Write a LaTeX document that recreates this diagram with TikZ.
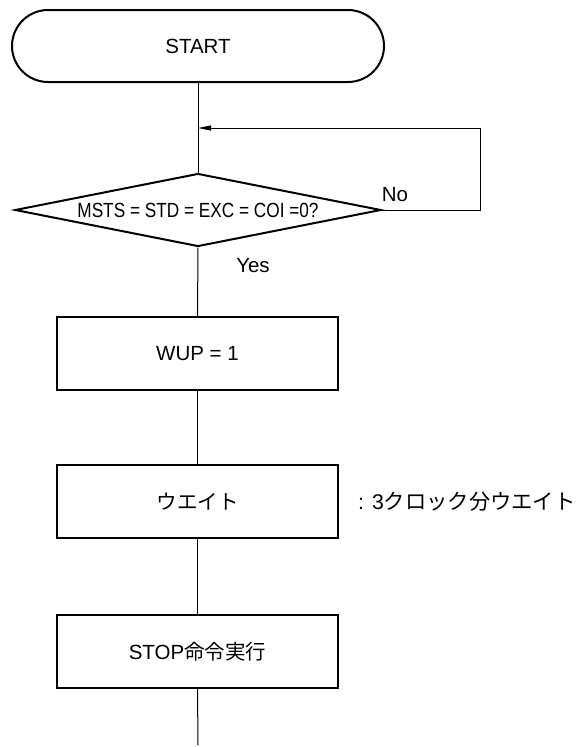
\documentclass[tikz,border=0pt]{standalone}
\usepackage{fontspec}
\setmainfont{Liberation Sans}
\newfontfamily\jp{Noto Sans CJK JP}
\usetikzlibrary{shapes.geometric,arrows.meta}
\begin{document}
\begin{tikzpicture}[x=1pt,y=-1pt,
  font=\fontsize{20.5}{24}\selectfont,
  box/.style={draw,line width=2pt,minimum width=281pt,minimum height=73pt,inner sep=0pt},
  term/.style={draw,line width=2pt,rounded corners=36pt,minimum width=372pt,minimum height=72pt,inner sep=0pt},
  dec/.style={draw,diamond,line width=2pt,minimum width=366pt,minimum height=73pt,inner sep=0pt},
  conn/.style={line width=1pt},
  lbl/.style={inner sep=0pt}]
\useasboundingbox (0,0) rectangle (579,747);
\node[term] (start) at (198,46) {START};
\node[dec] (dec) at (198,210) {};
\node[lbl] (dectext) at (198,210) {\scalebox{0.84}[1]{MSTS = STD = EXC = COI =0?}};
\node[lbl] (no) at (395,195) {No};
\node[lbl] (yes) at (253,266) {Yes};
\node[box] (wup) at (197.5,353.5) {WUP = 1};
\node[box] (wait) at (197.5,501.5) {\jp ウエイト};
\node[lbl,anchor=west,font=\fontsize{21.3}{24}\selectfont] (note) at (358,502) {: 3{\jp クロック分ウエイト}};
\node[box] (stop) at (197.5,651.5) {STOP{\jp 命令実行}};
\coordinate (join) at (198,128);
\coordinate (corner1) at (480,210);
\coordinate (corner2) at (480,128);
\coordinate (endpt) at (198,745);
\draw[conn] (start.south) -- (dec.north);
\draw[conn] (dec.south) -- (wup.north);
\draw[conn] (wup.south) -- (wait.north);
\draw[conn] (wait.south) -- (stop.north);
\draw[conn] (stop.south) -- (endpt);
\draw[conn,-{Triangle[length=13pt,width=5pt]}] (dec.east) -- (corner1) -- (corner2) -- (join);
\end{tikzpicture}
\end{document}
